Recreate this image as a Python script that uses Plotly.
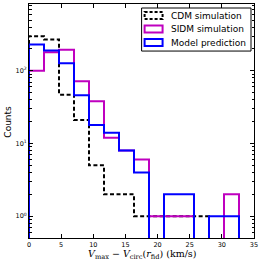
import numpy as np
import plotly.graph_objects as go

# Data
bin_edges = list(np.linspace(0, 35, 16))
cdm_counts = [300, 270, 47, 21, 5, 2, 2, 1, 1, 1, 1, 1, 0, 0, 0]
sidm_counts = [100, 180, 195, 72, 38, 12, 8, 6, 1, 1, 1, 0, 0, 2, 0]
model_counts = [230, 190, 127, 46, 18, 14, 8, 4, 0, 2, 2, 0, 1, 1, 0]
series_names = ["CDM simulation", "SIDM simulation", "Model prediction"]
x_ticks = [0, 5, 10, 15, 20, 25, 30, 35]
y_ticks = [1, 10, 100]
y_ticktext = ["10<sup>0</sup>", "10<sup>1</sup>", "10<sup>2</sup>"]

FLOOR = 1e-3


def step_path(edges, counts):
    xs = [edges[0]]
    ys = [FLOOR]
    for i, c in enumerate(counts):
        v = c if c > 0 else FLOOR
        xs += [edges[i], edges[i + 1]]
        ys += [v, v]
    xs.append(edges[-1])
    ys.append(FLOOR)
    return xs, ys


DASH = "4px,2.5px"
fig = go.Figure()
styles = [
    dict(color="black", dash=DASH, width=2),
    dict(color="#bf00bf", dash="solid", width=2),
    dict(color="#0000ff", dash="solid", width=2),
]
for name, counts, st in zip(series_names, [cdm_counts, sidm_counts, model_counts], styles):
    xs, ys = step_path(bin_edges, counts)
    fig.add_trace(go.Scatter(x=xs, y=ys, mode="lines", name=name,
                             line=dict(color=st["color"], dash=st["dash"], width=st["width"]),
                             showlegend=False, hoverinfo="skip"))

# Manual legend (matplotlib-style)
L, R, T, B = 29.3, 254.5, 4.0, 237.7
W, H = 263, 262
pw, ph = R - L, B - T


def px(x):
    return (x - L) / pw


def py(y):
    return (B - y) / ph


shapes = [dict(type="rect", xref="paper", yref="paper",
               x0=px(142), x1=px(251.5), y0=py(51), y1=py(8),
               line=dict(color="black", width=1), fillcolor="white", layer="above")]
annotations = []
rows = [15.5, 29, 42.5]
for name, st, yc in zip(series_names, styles, rows):
    shapes.append(dict(type="rect", xref="paper", yref="paper",
                       x0=px(145), x1=px(163), y0=py(yc + 3.5), y1=py(yc - 3.5),
                       line=dict(color=st["color"], width=2, dash="3px,2px" if st["dash"] == DASH else "solid"),
                       fillcolor="rgba(0,0,0,0)", layer="above"))
    annotations.append(dict(xref="paper", yref="paper", x=px(169.5), y=py(yc),
                            text=name, showarrow=False, xanchor="left", yanchor="middle",
                            font=dict(family="DejaVu Sans", size=9, color="black")))

annotations.append(dict(xref="paper", yref="paper", x=0.5, y=0, yshift=-16,
                        text="<i>V</i><sub>max</sub> − <i>V</i><sub>circ</sub>(<i>r</i><sub>fid</sub>) (km/s)",
                        showarrow=False, xanchor="center", yanchor="middle",
                        font=dict(family="DejaVu Serif", size=9.5, color="black")))
annotations.append(dict(xref="paper", yref="paper", x=0, xshift=-21, y=py(121.5),
                        text="Counts", textangle=-90, showarrow=False,
                        xanchor="center", yanchor="middle",
                        font=dict(family="DejaVu Sans", size=9, color="black")))

fig.update_layout(
    width=W, height=H,
    margin=dict(l=L, r=W - R, t=T, b=H - B),
    paper_bgcolor="white", plot_bgcolor="white",
    shapes=shapes, annotations=annotations,
    showlegend=False, hovermode=False,
)
fig.update_xaxes(range=[0, 35], tickvals=x_ticks, ticks="inside", ticklen=4, tickcolor="black",
                 showline=True, linecolor="black", linewidth=1, mirror="allticks",
                 showgrid=False, zeroline=False,
                 tickfont=dict(family="DejaVu Sans", size=6.5, color="black"))
fig.update_yaxes(type="log", range=[np.log10(0.5), 2.92], tickvals=y_ticks, ticktext=y_ticktext,
                 ticks="inside", ticklen=4, tickcolor="black",
                 minor=dict(ticks="inside", ticklen=2.5, tickwidth=1, dtick="D1", tickcolor="black", showgrid=False),
                 showline=True, linecolor="black", linewidth=1, mirror="allticks",
                 showgrid=False, zeroline=False,
                 tickfont=dict(family="DejaVu Sans", size=6.5, color="black"))

fig.write_html("out.html", config={"displayModeBar": False},
               post_script="document.body.style.margin='0';document.body.style.overflow='hidden';")
